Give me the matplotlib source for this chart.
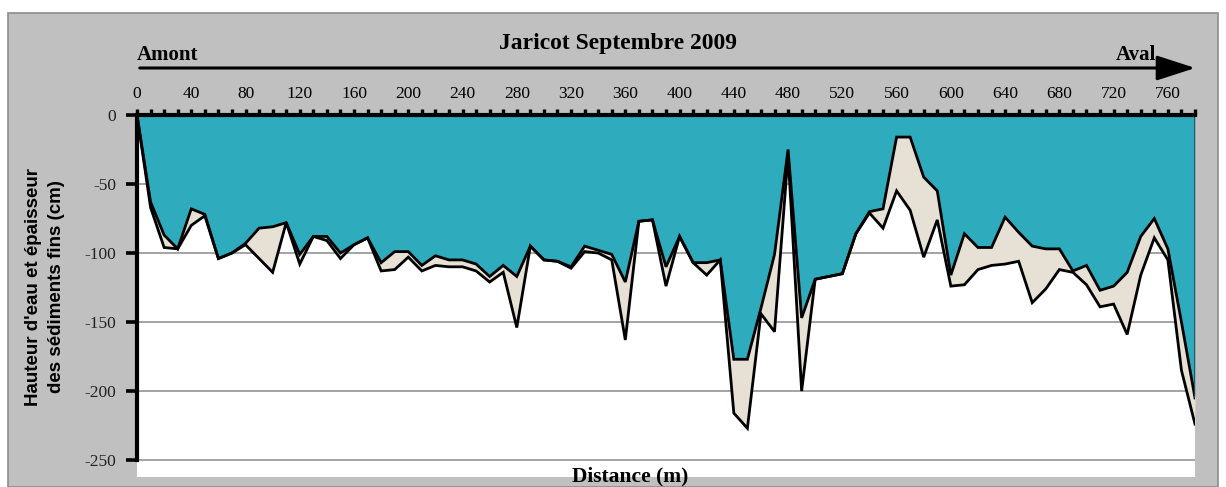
import numpy as np
import matplotlib
matplotlib.use("Agg")
import matplotlib.pyplot as plt
from matplotlib.patches import Rectangle, FancyArrowPatch
from matplotlib.ticker import MultipleLocator

# Distance along the reach (m), one survey point every 10 m
distance = list(range(0, 790, 10))

# Top of fine sediments (= bottom of the water column), cm
water_bottom = [
    0, -63, -87, -97, -68, -72, -104, -100, -93, -82,
    -81, -78, -101, -88, -88, -100, -94, -89, -107, -99,
    -99, -109, -102, -105, -105, -108, -117, -109, -117, -95,
    -105, -106, -110, -95, -98, -101, -121, -77, -76, -110,
    -88, -107, -107, -105, -177, -177, -140, -101, -25, -147,
    -119, -117, -115, -86, -70, -68, -16, -16, -45, -55,
    -116, -86, -96, -96, -74, -85, -95, -97, -97, -113,
    -109, -127, -124, -114, -88, -75, -97, -150, -205,
]

# Hard bed under the fine sediments, cm
hard_bed = [
    0, -67, -96, -97, -80, -73, -104, -100, -94, -104,
    -114, -78, -108, -88, -91, -104, -94, -89, -113, -112,
    -103, -113, -109, -110, -110, -113, -121, -114, -154, -95,
    -105, -106, -111, -99, -100, -105, -163, -77, -76, -124,
    -88, -107, -116, -105, -216, -227, -144, -157, -29, -200,
    -119, -117, -115, -86, -71, -82, -55, -69, -103, -76,
    -124, -123, -112, -109, -108, -106, -136, -126, -112, -114,
    -123, -139, -137, -159, -116, -89, -105, -185, -224,
]

x_ticks = list(range(0, 800, 40))
y_ticks = [0, -50, -100, -150, -200, -250]

title = "Jaricot Septembre 2009"
upstream_label = "Amont"
downstream_label = "Aval"
x_label = "Distance (m)"
y_label = "Hauteur d'eau et épaisseur\ndes sédiments fins (cm)"

WATER = "#2FABBE"
SEDIMENT = "#E6E0D5"
FRAME = "#C0C0C0"
SERIF = "Liberation Serif"
SANS = "Liberation Sans"

W, H = 1226, 487
fig = plt.figure(figsize=(W / 100, H / 100), dpi=100)
fig.patch.set_facecolor("white")

# grey chart frame, kept behind everything else
frame = Rectangle((8 / W, 0), 1210 / W, 1 - 13 / H,
                  transform=fig.transFigure, facecolor=FRAME,
                  edgecolor="#8C8C8C", linewidth=1.2, zorder=-10)
fig.add_artist(frame)

left, right, top, bottom = 137, 1195, 115, 477
ax = fig.add_axes([left / W, 1 - bottom / H, (right - left) / W, (bottom - top) / H])
ax.set_zorder(5)
ax.set_facecolor("white")

d = np.array(distance)
wb = np.array(water_bottom)
hb = np.array(hard_bed)

ax.fill_between(d, 0, wb, color=WATER, linewidth=0, zorder=2)
ax.fill_between(d, wb, hb, color=SEDIMENT, linewidth=0, zorder=2)
ax.plot(d, hb, color="black", linewidth=2.0, zorder=3, solid_joinstyle="miter")
ax.plot(d, wb, color="black", linewidth=2.0, zorder=4, solid_joinstyle="miter")
ax.vlines(d[-1], wb[-1], 0, color="#404040", linewidth=1.2, zorder=4)

ax.set_xlim(0, 780)
ax.set_ylim(-262.3, 0)

# horizontal gridlines
for yv in y_ticks[1:]:
    ax.axhline(yv, color="#8A8A8A", linewidth=1.1, zorder=1)

# top distance axis
ax.xaxis.tick_top()
ax.set_xticks(x_ticks)
ax.set_xticklabels([str(v) for v in x_ticks], fontfamily=SERIF, fontsize=12.5)
ax.xaxis.set_minor_locator(MultipleLocator(10))
ax.tick_params(axis="x", which="both", direction="out", length=4, width=2.4,
               color="black", pad=5)

ax.set_yticks(y_ticks)
ax.set_yticklabels([str(v) for v in y_ticks], fontfamily=SERIF, fontsize=12.5,
                   color="#222222")
ax.tick_params(axis="y", direction="out", length=8, width=2.6, pad=7)

for s in ["right", "bottom"]:
    ax.spines[s].set_visible(False)
ax.spines["top"].set_linewidth(3)
ax.spines["left"].set_linewidth(3)
ax.spines["left"].set_bounds(-250, 0)
ax.spines["top"].set_zorder(6)
ax.spines["left"].set_zorder(6)

# upstream -> downstream arrow above the axis
arrow = FancyArrowPatch((left / W, 1 - 68 / H), (1198 / W, 1 - 68 / H),
                        transform=fig.transFigure,
                        arrowstyle="-|>,head_length=1.7,head_width=0.55",
                        mutation_scale=14, color="black", linewidth=2.2, zorder=3)
fig.add_artist(arrow)

fig.text(left / W, 1 - 55 / H, upstream_label, ha="left", va="center",
         fontfamily=SERIF, fontweight="bold", fontsize=15)
fig.text(1156 / W, 1 - 55 / H, downstream_label, ha="right", va="center",
         fontfamily=SERIF, fontweight="bold", fontsize=15)
fig.text(618 / W, 1 - 43 / H, title, ha="center", va="center",
         fontfamily=SERIF, fontweight="bold", fontsize=17)
fig.text(630 / W, 1 - 476 / H, x_label, ha="center", va="center",
         fontfamily=SERIF, fontweight="bold", fontsize=15.5, zorder=10)
fig.text(45 / W, 1 - 287 / H, y_label, ha="center", va="center", rotation=90,
         fontfamily=SANS, fontweight="bold", fontsize=13.5, linespacing=1.4)

fig.savefig("out.png", dpi=100)
